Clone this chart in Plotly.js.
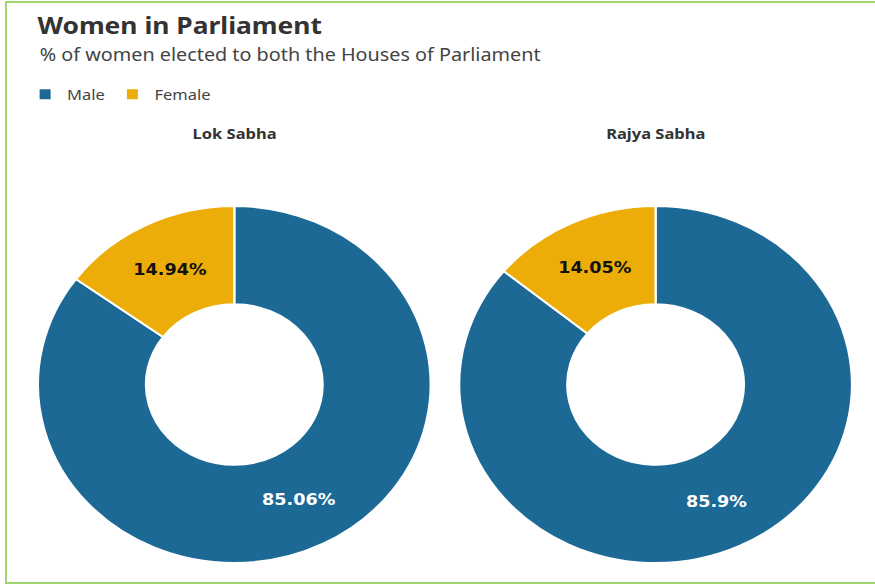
<!DOCTYPE html>
<html>
<head>
<meta charset="utf-8">
<script src="https://cdn.plot.ly/plotly-3.0.1.min.js"></script>
<style>
  html, body { margin: 0; padding: 0; background: #fff; overflow: hidden; }
  #frame { position: absolute; left: 5px; top: 1px; width: 900px; height: 583px; border: 2px solid #9fd66b; box-sizing: border-box; }
  #chart { position: absolute; left: 0; top: 0; width: 795px; height: 585px; transform: scaleX(1.1); transform-origin: 0 0; }
</style>
</head>
<body>
<div id="frame"></div>
<div id="chart"></div>
<script>
const categories = ['Male', 'Female'];
const houses = ['Lok Sabha', 'Rajya Sabha'];
const lokSabhaValues = [85.06, 14.94];
const rajyaSabhaValues = [85.9, 14.05];
const colors = ['rgb(29, 105, 150)', 'rgb(237, 173, 8)'];

const W = 795, H = 585;
const px = v => v / W;
const py = v => 1 - v / H;

function pie(values, xdom, name) {
  return {
    type: 'pie',
    name: name,
    labels: categories,
    values: values,
    sort: false,
    direction: 'clockwise',
    rotation: 0,
    hole: 0.45,
    domain: { x: xdom, y: [py(563), py(206)] },
    marker: { colors: colors, line: { color: '#ffffff', width: 2 } },
    texttemplate: '%{value}%',
    textposition: 'inside',
    insidetextorientation: 'horizontal',
    textfont: { family: 'DejaVu Sans', size: 16, weight: 'bold', color: ['#ffffff', '#111111'] },
    hoverinfo: 'label+value',
    showlegend: true
  };
}

const data = [
  pie(lokSabhaValues, [px(34.5), px(391.5)], houses[0]),
  pie(rajyaSabhaValues, [px(417.5), px(774.5)], houses[1])
];

const layout = {
  width: W, height: H,
  margin: { l: 0, r: 0, t: 0, b: 0 },
  paper_bgcolor: 'rgba(0,0,0,0)',
  plot_bgcolor: 'rgba(0,0,0,0)',
  title: {
    text: '<b>Women in Parliament</b>',
    x: px(34), xanchor: 'left', xref: 'paper',
    y: py(17), yanchor: 'top', yref: 'paper',
    font: { family: 'Noto Sans', size: 24, color: '#333333' }
  },
  legend: {
    orientation: 'h', x: px(21), xanchor: 'left', y: py(78), yanchor: 'top',
    font: { family: 'Noto Sans', size: 15, color: '#444444' },
    itemwidth: 30, traceorder: 'normal'
  },
  annotations: [
    { text: '% of women elected to both the Houses of Parliament', xref: 'paper', yref: 'paper',
      x: px(34), xanchor: 'left', y: py(40), yanchor: 'top', showarrow: false,
      font: { family: 'Noto Sans', size: 18, color: '#444444' } },
    { text: '<b>' + houses[0] + '</b>', xref: 'paper', yref: 'paper',
      x: px(213), xanchor: 'center', y: py(121), yanchor: 'top', showarrow: false,
      font: { family: 'Noto Sans', size: 15, color: '#333333' } },
    { text: '<b>' + houses[1] + '</b>', xref: 'paper', yref: 'paper',
      x: px(596), xanchor: 'center', y: py(121), yanchor: 'top', showarrow: false,
      font: { family: 'Noto Sans', size: 15, color: '#333333' } }
  ]
};

Plotly.newPlot('chart', data, layout, { displayModeBar: false, staticPlot: true });
</script>
</body>
</html>
